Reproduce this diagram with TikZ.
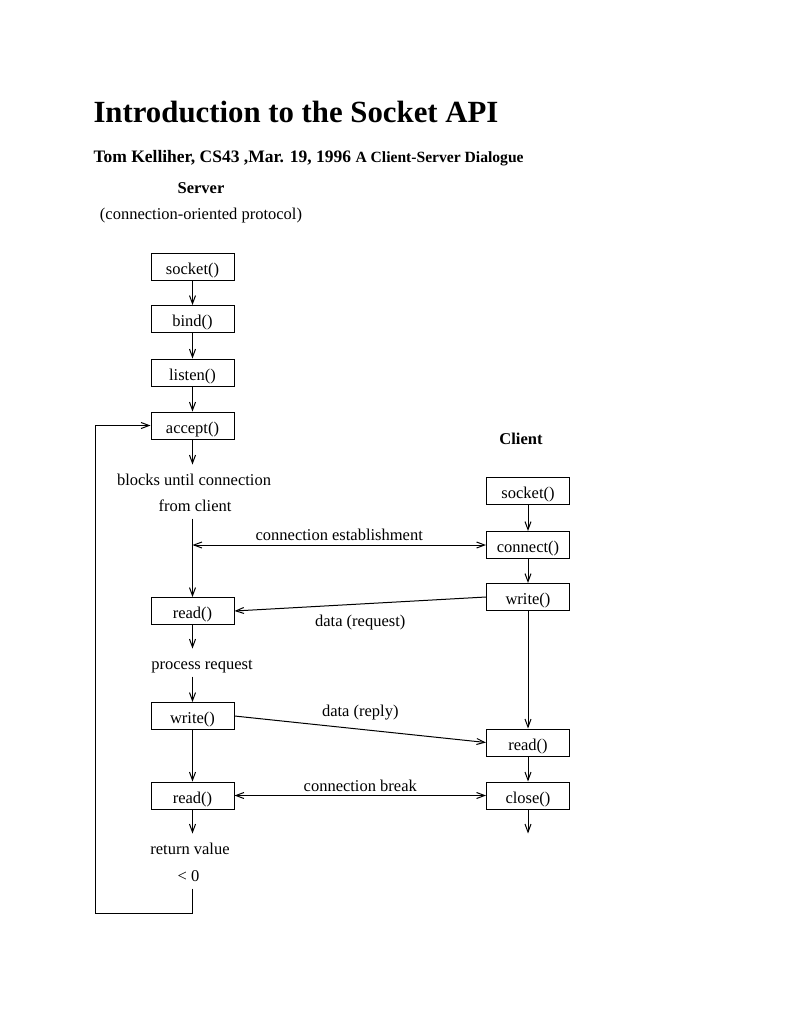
\documentclass[tikz,border=0pt]{standalone}
\usepackage{fontspec}
\setmainfont{Liberation Serif}
\usetikzlibrary{arrows.meta}
\tikzstyle{box} = [rectangle, align=center, draw=black, minimum width=83pt, minimum height=27pt, inner sep=0pt, text height=15pt, text depth=0pt, line width=1pt]
\tikzstyle{txt} = [align=center, inner xsep=0pt, inner ysep=4pt, text height=11pt, text depth=3pt]
\newcommand{\diafont}{\fontsize{16.5}{20}\selectfont}

\begin{document}
\begin{tikzpicture}[>={Straight Barb[length=8pt,width=6pt]}, x=1pt, y=-1pt, line width=1pt, font=\diafont]
	\useasboundingbox (0,0) rectangle (791,1023);

	% heading
	\node[anchor=base west, inner sep=0pt, font=\fontsize{30.8}{36}\selectfont\bfseries] (title) at (93,122) {Introduction to the Socket API};
	\node[anchor=base west, inner sep=0pt, font=\fontsize{17.5}{20}\selectfont\bfseries] (sub) at (93,162) {Tom Kelliher, CS43 ,Mar. 19, 1996 {\fontsize{15.6}{18}\selectfont A Client-Server Dialogue}};

	% server side
	\node[txt, font=\diafont\bfseries] (server) at (201,189) {Server};
	\node[txt] at ([yshift=-26pt]server) (proto) {(connection-oriented protocol)};
	\node[box] (ssocket) at (192.5,266.5) {socket()};
	\node[box] at ([yshift=-52.5pt]ssocket) (sbind) {bind()};
	\node[box] at ([yshift=-53.5pt]sbind) (slisten) {listen()};
	\node[box] at ([yshift=-53pt]slisten) (saccept) {accept()};
	\node[txt] at ([yshift=-55.5pt, xshift=1.5pt]saccept) (blocks) {blocks until connection};
	\node[txt] at ([yshift=-26pt, xshift=1pt]blocks) (fromcl) {from client};
	\node[box] (sread) at (192.5,611) {read()};
	\node[txt] at ([yshift=-54pt, xshift=9.5pt]sread) (process) {process request};
	\node[box] (swrite) at (192.5,716) {write()};
	\node[box] at ([yshift=-79.5pt]swrite) (sclose) {read()};
	\node[txt] at ([yshift=-54.5pt, xshift=-2.5pt]sclose) (retval) {return value};
	\node[txt] at ([yshift=-27pt, xshift=-1.5pt]retval) (ltzero) {< 0};
	\coordinate (loop) at (95,913);

	% client side
	\node[txt, font=\diafont\bfseries] (client) at (521,440) {Client};
	\node[box] (csocket) at (528,491) {socket()};
	\node[box] at ([yshift=-54pt]csocket) (cconnect) {connect()};
	\node[box] at ([yshift=-52pt]cconnect) (cwrite) {write()};
	\node[box] (cread) at (528,742.5) {read()};
	\node[box] at ([yshift=-53pt]cread) (cclose) {close()};
	\coordinate (cend) at ([yshift=-24pt]cclose.south);

	\foreach \a\b in {ssocket/sbind, sbind/slisten, slisten/saccept, swrite/sclose,
		csocket/cconnect, cconnect/cwrite, cwrite/cread, cread/cclose}{
		\draw[->] (\a.south) -- (\b.north);
	}
	\foreach \a\b in {saccept/blocks, sread/process, sclose/retval}{
		\draw[->, shorten >=5pt] (\a.south) -- (\a.south |- \b.north);
	}
	\foreach \a\b in {fromcl/sread, process/swrite}{
		\draw[->] (\b.north |- \a.south) -- (\b.north);
	}
	\draw[->] (cclose.south) -- (cend);
	\draw[->] (sclose.south |- ltzero.south) |- (loop) |- (saccept.west);

	% messages
	\draw[<->] (cconnect.west -| sread) -- (cconnect.west) node[midway, above=1pt] {connection establishment};
	\draw[->] (cwrite.west) -- (sread.east) node[midway, below=7pt] {data (request)};
	\draw[->] (swrite.east) -- (cread.west) node[midway, above=5pt] {data (reply)};
	\draw[<->] (sclose.east) -- (cclose.west) node[midway, above=0pt] {connection break};
\end{tikzpicture}
\end{document}
